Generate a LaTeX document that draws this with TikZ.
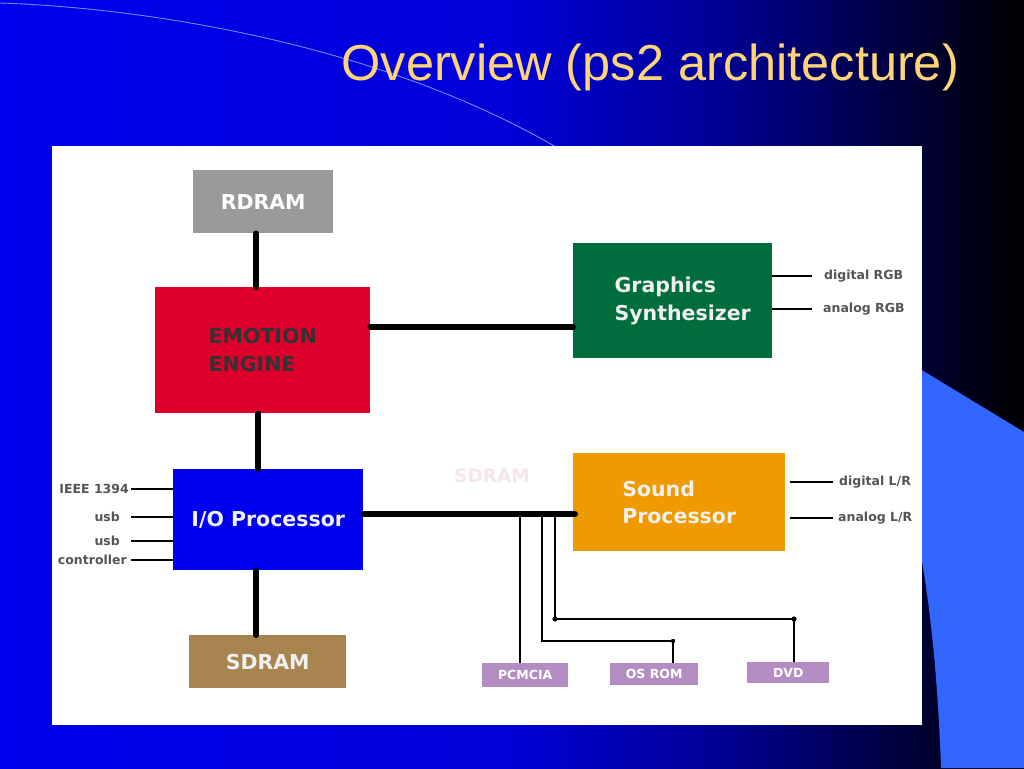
\documentclass[tikz,border=0pt]{standalone}
\usepackage{fontspec}
\setmainfont{DejaVu Sans}
\newfontfamily\titlefont{Liberation Sans}
\definecolor{bgA}{RGB}{0,0,238}
\definecolor{bgB}{RGB}{0,0,215}
\definecolor{bgC}{RGB}{0,0,150}
\definecolor{bgD}{RGB}{0,0,75}
\definecolor{bgE}{RGB}{0,0,25}
\definecolor{bgF}{RGB}{0,0,0}
\definecolor{sideblue}{RGB}{51,102,255}
\definecolor{arcblue}{RGB}{110,140,255}
\definecolor{titleyellow}{RGB}{255,212,120}
\definecolor{rdgray}{RGB}{154,154,154}
\definecolor{eered}{RGB}{222,0,42}
\definecolor{eetext}{RGB}{51,51,51}
\definecolor{gsgreen}{RGB}{0,110,60}
\definecolor{iopblue}{RGB}{0,0,240}
\definecolor{sdbrown}{RGB}{168,132,80}
\definecolor{sporange}{RGB}{238,154,0}
\definecolor{perpurple}{RGB}{180,140,196}
\definecolor{lblgray}{RGB}{85,85,85}
\definecolor{ghostpink}{RGB}{245,230,236}
\pgfdeclarehorizontalshading{bgshade}{100bp}{color(0bp)=(bgA); color(25bp)=(bgA); color(50bp)=(bgB); color(60bp)=(bgC); color(67.5bp)=(bgD); color(72.5bp)=(bgE); color(75bp)=(bgF); color(100bp)=(bgF)}
\begin{document}
\begin{tikzpicture}[x=1pt,y=-1pt,
  box/.style={draw=none, anchor=north west, inner sep=0pt, align=left,
    font=\bfseries\fontsize{20.5}{27.5}\selectfont},
  small/.style={draw=none, anchor=north west, inner sep=0pt, text=white,
    font=\bfseries\fontsize{12.5}{14}\selectfont},
  lbl/.style={inner sep=0pt, text=lblgray, font=\bfseries\fontsize{12.5}{14}\selectfont},
  bus/.style={line width=6pt, line cap=round},
  wire/.style={line width=2.6pt},
  joint/.style={fill=black, draw=none}]
\useasboundingbox (0,0) rectangle (1024,768);
% background
\shade[shading=bgshade] (0,0) rectangle (1024,768);
\draw[arcblue, line width=0.9pt] (0,3) .. controls (150,8) and (380,45) .. (556,147);
\fill[sideblue] (915,366) -- (1024,432) -- (1024,768) -- (941,768)
  .. controls (938,680) and (930,600) .. (918,540) -- cycle;
% title
\node[anchor=base west, text=titleyellow, font=\titlefont\fontsize{50.5}{60}\selectfont] (title) at (338,80) {Overview (ps2 architecture)};
% white panel
\fill[white] (52,146) rectangle (922,725);
% blocks
\node[box, fill=rdgray, text=white, minimum width=140pt, minimum height=63pt] (rdram) at (193,170) {RDRAM};
\node[box, fill=eered, text=eetext, minimum width=215pt, minimum height=126pt] (ee) at (155,287) {EMOTION\\ENGINE};
\node[box, fill=gsgreen, text=white!94!black, minimum width=199pt, minimum height=115pt] (gs) at (573,243) {\hspace*{20pt}Graphics\\\hspace*{20pt}Synthesizer};
\node[box, fill=iopblue, text=white!94!black, minimum width=190pt, minimum height=101pt] (iop) at (173,469) {I/O Processor};
\node[box, fill=sdbrown, text=white!94!black, minimum width=157pt, minimum height=53pt] (sdram) at (189,635) {SDRAM};
\node[box, fill=sporange, text=white!94!black, minimum width=212pt, minimum height=98pt] (snd) at (573,453) {Sound\\Processor};
\node[anchor=center, inner sep=0pt, text=ghostpink, font=\bfseries\fontsize{18.5}{20}\selectfont] (ghost) at (492,476) {SDRAM};
\node[small, fill=perpurple, minimum width=86pt, minimum height=24pt] (pcm) at (482,663) {PCMCIA};
\node[small, fill=perpurple, minimum width=88pt, minimum height=22pt] (osrom) at (610,663) {\raisebox{-3pt}{OS ROM}};
\node[small, fill=perpurple, minimum width=82pt, minimum height=21pt] (dvd) at (747,662) {DVD};
% main buses
\draw[bus] (rdram.south -| 256,0) -- (ee.north -| 256,0);
\draw[bus] (ee.south -| 258,0) -- (iop.north -| 258,0);
\draw[bus] (iop.south -| 256,0) -- (sdram.north -| 256,0);
\draw[bus] (ee.east |- 0,327) -- (gs.west |- 0,327);
\coordinate (busend) at (575,514);
\draw[bus] (iop.east |- busend) -- (busend);
% peripheral branches
\coordinate (b1) at (520,514);
\coordinate (b2) at (542,514);
\coordinate (b3) at (555,514);
\coordinate (c2) at (542,641);
\coordinate (c3) at (555,619);
\coordinate (d2) at (673,641);
\coordinate (d3) at (794,619);
\draw[wire] (b1) -- (b1 |- pcm.north);
\draw[wire] (b2) -- (c2) -- (d2) -- (d2 |- osrom.north);
\draw[wire] (b3) -- (c3) -- (d3) -- (d3 |- dvd.north);
\fill[joint] (c3) circle (2.6);
\fill[joint] (d3) circle (2.6);
\fill[joint] (d2) circle (2.2);
% IOP side labels
\node[lbl, anchor=east] (ieee) at (129,489) {IEEE 1394};
\node[lbl, anchor=east] (usbA) at (120,517) {usb};
\node[lbl, anchor=east] (usbB) at (120,541) {usb};
\node[lbl, anchor=east] (ctrl) at (127,560) {controller};
\draw[wire] ([xshift=2pt]ieee.east) -- (ieee.east -| iop.west);
\draw[wire] ([xshift=11pt]usbA.east) -- (usbA.east -| iop.west);
\draw[wire] ([xshift=11pt]usbB.east) -- (usbB.east -| iop.west);
\draw[wire] ([xshift=4pt]ctrl.east) -- (ctrl.east -| iop.west);
% GS outputs
\node[lbl, anchor=west] (drgb) at (824,276) {digital RGB};
\node[lbl, anchor=west] (argb) at (823,309) {analog RGB};
\draw[wire] (gs.east |- drgb.west) -- ([xshift=-12pt]drgb.west);
\draw[wire] (gs.east |- argb.west) -- ([xshift=-11pt]argb.west);
% Sound outputs
\node[lbl, anchor=west] (dlr) at (839,482) {digital L/R};
\node[lbl, anchor=west] (alr) at (838,518) {analog L/R};
\draw[wire] ([xshift=5pt]snd.east |- dlr.west) -- ([xshift=-6pt]dlr.west);
\draw[wire] ([xshift=5pt]snd.east |- alr.west) -- ([xshift=-5pt]alr.west);
\end{tikzpicture}
\end{document}
